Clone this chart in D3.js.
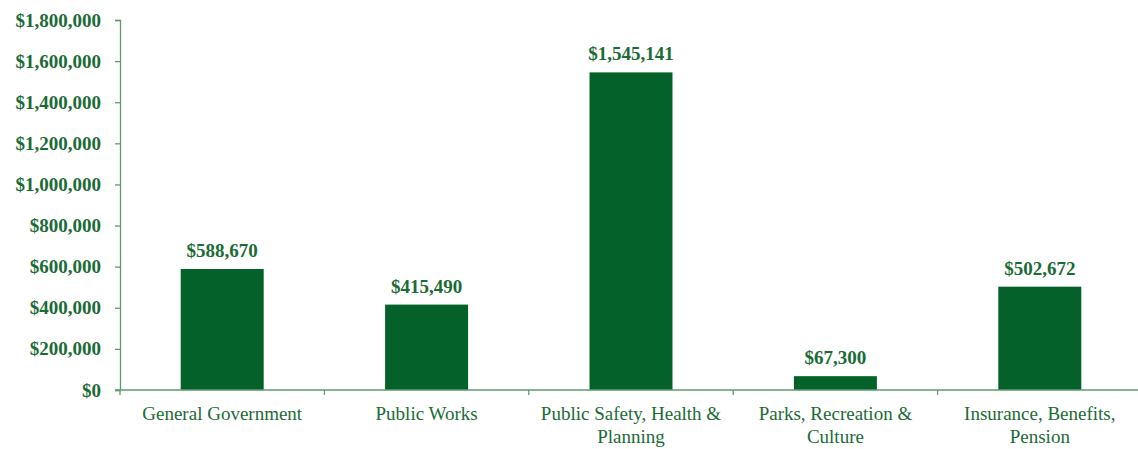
<!DOCTYPE html>
<html>
<head>
<meta charset="utf-8">
<script src="https://d3js.org/d3.v7.min.js"></script>
<style>
  html, body { margin: 0; padding: 0; background: #fff; }
  svg text { font-family: "Liberation Serif", "Times New Roman", serif; }
</style>
</head>
<body>
<svg id="chart" width="1138" height="449"></svg>
<script>
// categories, with their line breaks as in the picture
var categories = ["General Government", "Public Works", "Public Safety, Health & Planning", "Parks, Recreation & Culture", "Insurance, Benefits, Pension"];
var categoryLines = [
    ["General Government"],
    ["Public Works"],
    ["Public Safety, Health &", "Planning"],
    ["Parks, Recreation &", "Culture"],
    ["Insurance, Benefits,", "Pension"]
];
var spending = [588670, 415490, 1545141, 67300, 502672];
var yTicks = [0, 200000, 400000, 600000, 800000, 1000000, 1200000, 1400000, 1600000, 1800000];

var textColor = "#1b6b36";
var barColor = "#05612a";
var axisColor = "#5f9a6e";

var svg = d3.select("#chart");
var x = d3.scaleBand().domain(categories).range([120, 1142]).paddingInner(0.594).paddingOuter(0.297);
var y = d3.scaleLinear().domain([0, 1800000]).range([390, 20]);
var money = d3.format("$,.0f");

// y axis
var yAxis = svg.append("g")
    .attr("transform", "translate(120,0)")
    .call(d3.axisLeft(y).tickValues(yTicks).tickFormat(money).tickSize(5).tickPadding(14));
yAxis.select(".domain").attr("stroke", axisColor).attr("stroke-width", 1.3);
yAxis.selectAll(".tick line").attr("stroke", axisColor).attr("stroke-width", 1.3);
yAxis.selectAll(".tick text")
    .attr("fill", textColor)
    .style("font-size", "19px")
    .style("font-weight", "bold");

// bars
svg.append("g").selectAll("rect")
    .data(spending)
    .enter().append("rect")
    .attr("x", function (d, i) { return x(categories[i]); })
    .attr("y", function (d) { return y(d); })
    .attr("width", x.bandwidth())
    .attr("height", function (d) { return y(0) - y(d); })
    .attr("fill", barColor);

// value labels
svg.append("g").selectAll("text")
    .data(spending)
    .enter().append("text")
    .attr("x", function (d, i) { return x(categories[i]) + x.bandwidth() / 2; })
    .attr("y", function (d) { return y(d) - 12; })
    .attr("text-anchor", "middle")
    .attr("fill", textColor)
    .style("font-size", "19px")
    .style("font-weight", "bold")
    .text(function (d) { return money(d); });

// x axis: boundary ticks between categories
var xAxis = svg.append("g").attr("transform", "translate(0,390)");
xAxis.append("line")
    .attr("x1", 115).attr("x2", 1142)
    .attr("stroke", axisColor).attr("stroke-width", 1.3);
var step = x.step();
var bounds = d3.range(categories.length + 1).map(function (i) { return 120 + i * step; });
xAxis.selectAll(".bound")
    .data(bounds)
    .enter().append("line")
    .attr("class", "bound")
    .attr("x1", function (d) { return d; }).attr("x2", function (d) { return d; })
    .attr("y1", 0).attr("y2", 5)
    .attr("stroke", axisColor).attr("stroke-width", 1.3);

// category labels
var labels = svg.append("g").selectAll("text")
    .data(categoryLines)
    .enter().append("text")
    .attr("text-anchor", "middle")
    .attr("fill", textColor)
    .style("font-size", "19px")
    .attr("transform", function (d, i) { return "translate(" + (x(categories[i]) + x.bandwidth() / 2) + ",420)"; });
labels.selectAll("tspan")
    .data(function (d) { return d; })
    .enter().append("tspan")
    .attr("x", 0)
    .attr("y", function (d, j) { return j * 23; })
    .text(function (d) { return d; });
</script>
</body>
</html>
